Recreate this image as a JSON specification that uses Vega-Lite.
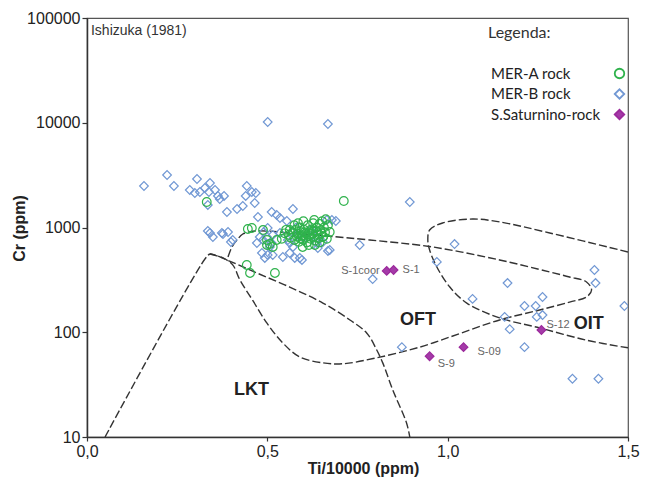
{
  "$schema": "https://vega.github.io/schema/vega-lite/v6.json",
  "autosize": "none",
  "width": 541,
  "height": 419,
  "padding": {"left": 87, "top": 18, "right": 24, "bottom": 44},
  "background": "white",
  "config": {
    "font": "Liberation Sans",
    "view": {"stroke": "#555", "strokeWidth": 1.2},
    "axis": {"grid": false, "domainColor": "#333", "domainWidth": 1.5, "tickColor": "#333", "tickWidth": 1.2, "labelFont": "Liberation Sans", "labelFontSize": 16, "labelColor": "#222", "titleFont": "Liberation Sans", "titleFontSize": 16, "titleFontWeight": "bold", "titleColor": "#222"}
  },
  "datasets": {
    "curves": [
      {"curve": "a", "ord": 1, "ti": 0.05, "cr": 10},
      {"curve": "a", "ord": 2, "ti": 0.327, "cr": 500},
      {"curve": "a", "ord": 3, "ti": 0.341, "cr": 558},
      {"curve": "a", "ord": 4, "ti": 0.355, "cr": 546},
      {"curve": "a", "ord": 5, "ti": 0.388, "cr": 490},
      {"curve": "a", "ord": 6, "ti": 0.471, "cr": 368},
      {"curve": "a", "ord": 7, "ti": 0.562, "cr": 270},
      {"curve": "a", "ord": 8, "ti": 0.654, "cr": 190},
      {"curve": "a", "ord": 9, "ti": 0.729, "cr": 131},
      {"curve": "a", "ord": 10, "ti": 0.776, "cr": 98},
      {"curve": "a", "ord": 11, "ti": 0.803, "cr": 68},
      {"curve": "a", "ord": 12, "ti": 0.82, "cr": 51},
      {"curve": "a", "ord": 13, "ti": 0.848, "cr": 28},
      {"curve": "a", "ord": 14, "ti": 0.886, "cr": 13.6},
      {"curve": "a", "ord": 15, "ti": 0.895, "cr": 10},
      {"curve": "b", "ord": 1, "ti": 0.341, "cr": 558},
      {"curve": "b", "ord": 2, "ti": 0.377, "cr": 512},
      {"curve": "b", "ord": 3, "ti": 0.404, "cr": 440},
      {"curve": "b", "ord": 4, "ti": 0.424, "cr": 316},
      {"curve": "b", "ord": 5, "ti": 0.46, "cr": 200},
      {"curve": "b", "ord": 6, "ti": 0.499, "cr": 122},
      {"curve": "b", "ord": 7, "ti": 0.543, "cr": 79},
      {"curve": "b", "ord": 8, "ti": 0.59, "cr": 58},
      {"curve": "b", "ord": 9, "ti": 0.654, "cr": 51},
      {"curve": "b", "ord": 10, "ti": 0.709, "cr": 50},
      {"curve": "b", "ord": 11, "ti": 0.803, "cr": 57},
      {"curve": "b", "ord": 12, "ti": 0.922, "cr": 72},
      {"curve": "b", "ord": 13, "ti": 1.006, "cr": 90},
      {"curve": "b", "ord": 14, "ti": 1.144, "cr": 131},
      {"curve": "b", "ord": 15, "ti": 1.255, "cr": 163},
      {"curve": "b", "ord": 16, "ti": 1.338, "cr": 194},
      {"curve": "b", "ord": 17, "ti": 1.385, "cr": 217},
      {"curve": "b", "ord": 18, "ti": 1.399, "cr": 253},
      {"curve": "b", "ord": 19, "ti": 1.385, "cr": 302},
      {"curve": "b", "ord": 20, "ti": 1.338, "cr": 337},
      {"curve": "b", "ord": 21, "ti": 1.283, "cr": 376},
      {"curve": "b", "ord": 22, "ti": 1.144, "cr": 490},
      {"curve": "b", "ord": 23, "ti": 0.958, "cr": 652},
      {"curve": "b", "ord": 24, "ti": 0.784, "cr": 760},
      {"curve": "b", "ord": 25, "ti": 0.665, "cr": 830},
      {"curve": "b", "ord": 26, "ti": 0.562, "cr": 887},
      {"curve": "b", "ord": 27, "ti": 0.5, "cr": 925},
      {"curve": "b", "ord": 28, "ti": 0.46, "cr": 920},
      {"curve": "b", "ord": 29, "ti": 0.432, "cr": 867},
      {"curve": "b", "ord": 30, "ti": 0.416, "cr": 760},
      {"curve": "b", "ord": 31, "ti": 0.402, "cr": 652},
      {"curve": "b", "ord": 32, "ti": 0.391, "cr": 523},
      {"curve": "c", "ord": 1, "ti": 1.5, "cr": 583},
      {"curve": "c", "ord": 2, "ti": 1.283, "cr": 887},
      {"curve": "c", "ord": 3, "ti": 1.144, "cr": 1130},
      {"curve": "c", "ord": 4, "ti": 1.069, "cr": 1205},
      {"curve": "c", "ord": 5, "ti": 0.986, "cr": 1104},
      {"curve": "c", "ord": 6, "ti": 0.95, "cr": 946},
      {"curve": "c", "ord": 7, "ti": 0.945, "cr": 760},
      {"curve": "c", "ord": 8, "ti": 0.95, "cr": 610},
      {"curve": "c", "ord": 9, "ti": 0.97, "cr": 420},
      {"curve": "c", "ord": 10, "ti": 1.006, "cr": 270},
      {"curve": "c", "ord": 11, "ti": 1.053, "cr": 190},
      {"curve": "c", "ord": 12, "ti": 1.144, "cr": 137},
      {"curve": "c", "ord": 13, "ti": 1.255, "cr": 110},
      {"curve": "c", "ord": 14, "ti": 1.385, "cr": 84},
      {"curve": "c", "ord": 15, "ti": 1.5, "cr": 71}
    ],
    "pts": [
      {"series": "MER-B rock", "ti": 0.158, "cr": 2490},
      {"series": "MER-B rock", "ti": 0.222, "cr": 3170},
      {"series": "MER-B rock", "ti": 0.241, "cr": 2490},
      {"series": "MER-B rock", "ti": 0.285, "cr": 2280},
      {"series": "MER-B rock", "ti": 0.305, "cr": 2904},
      {"series": "MER-B rock", "ti": 0.299, "cr": 2135},
      {"series": "MER-B rock", "ti": 0.313, "cr": 2183},
      {"series": "MER-B rock", "ti": 0.327, "cr": 2383},
      {"series": "MER-B rock", "ti": 0.341, "cr": 2660},
      {"series": "MER-B rock", "ti": 0.338, "cr": 2183},
      {"series": "MER-B rock", "ti": 0.355, "cr": 2280},
      {"series": "MER-B rock", "ti": 0.363, "cr": 2000},
      {"series": "MER-B rock", "ti": 0.368, "cr": 1871},
      {"series": "MER-B rock", "ti": 0.38, "cr": 2000},
      {"series": "MER-B rock", "ti": 0.335, "cr": 1641},
      {"series": "MER-B rock", "ti": 0.388, "cr": 1406},
      {"series": "MER-B rock", "ti": 0.416, "cr": 1502},
      {"series": "MER-B rock", "ti": 0.432, "cr": 1604},
      {"series": "MER-B rock", "ti": 0.443, "cr": 2490},
      {"series": "MER-B rock", "ti": 0.44, "cr": 2000},
      {"series": "MER-B rock", "ti": 0.457, "cr": 2183},
      {"series": "MER-B rock", "ti": 0.468, "cr": 2135},
      {"series": "MER-B rock", "ti": 0.465, "cr": 1714},
      {"series": "MER-B rock", "ti": 0.474, "cr": 1259},
      {"series": "MER-B rock", "ti": 0.512, "cr": 1406},
      {"series": "MER-B rock", "ti": 0.526, "cr": 1316},
      {"series": "MER-B rock", "ti": 0.535, "cr": 1232},
      {"series": "MER-B rock", "ti": 0.571, "cr": 1502},
      {"series": "MER-B rock", "ti": 0.554, "cr": 1153},
      {"series": "MER-B rock", "ti": 0.501, "cr": 10170},
      {"series": "MER-B rock", "ti": 0.668, "cr": 9730},
      {"series": "MER-B rock", "ti": 0.335, "cr": 926},
      {"series": "MER-B rock", "ti": 0.349, "cr": 811},
      {"series": "MER-B rock", "ti": 0.374, "cr": 887},
      {"series": "MER-B rock", "ti": 0.391, "cr": 906},
      {"series": "MER-B rock", "ti": 0.399, "cr": 727},
      {"series": "MER-B rock", "ti": 0.501, "cr": 989},
      {"series": "MER-B rock", "ti": 0.49, "cr": 906},
      {"series": "MER-B rock", "ti": 0.479, "cr": 811},
      {"series": "MER-B rock", "ti": 0.488, "cr": 760},
      {"series": "MER-B rock", "ti": 0.471, "cr": 711},
      {"series": "MER-B rock", "ti": 0.515, "cr": 848},
      {"series": "MER-B rock", "ti": 0.507, "cr": 652},
      {"series": "MER-B rock", "ti": 0.485, "cr": 571},
      {"series": "MER-B rock", "ti": 0.501, "cr": 546},
      {"series": "MER-B rock", "ti": 0.493, "cr": 512},
      {"series": "MER-B rock", "ti": 0.515, "cr": 546},
      {"series": "MER-B rock", "ti": 0.543, "cr": 523},
      {"series": "MER-B rock", "ti": 0.562, "cr": 571},
      {"series": "MER-B rock", "ti": 0.576, "cr": 512},
      {"series": "MER-B rock", "ti": 0.596, "cr": 490},
      {"series": "MER-B rock", "ti": 0.562, "cr": 711},
      {"series": "MER-B rock", "ti": 0.571, "cr": 652},
      {"series": "MER-B rock", "ti": 0.557, "cr": 760},
      {"series": "MER-B rock", "ti": 0.582, "cr": 848},
      {"series": "MER-B rock", "ti": 0.626, "cr": 848},
      {"series": "MER-B rock", "ti": 0.637, "cr": 711},
      {"series": "MER-B rock", "ti": 0.654, "cr": 727},
      {"series": "MER-B rock", "ti": 0.673, "cr": 610},
      {"series": "MER-B rock", "ti": 0.665, "cr": 1180},
      {"series": "MER-B rock", "ti": 0.679, "cr": 1180},
      {"series": "MER-B rock", "ti": 0.69, "cr": 1153},
      {"series": "MER-B rock", "ti": 0.756, "cr": 681},
      {"series": "MER-B rock", "ti": 0.535, "cr": 887},
      {"series": "MER-B rock", "ti": 0.895, "cr": 1752},
      {"series": "MER-B rock", "ti": 0.792, "cr": 322},
      {"series": "MER-B rock", "ti": 1.019, "cr": 695},
      {"series": "MER-B rock", "ti": 0.97, "cr": 469},
      {"series": "MER-B rock", "ti": 1.166, "cr": 295},
      {"series": "MER-B rock", "ti": 1.069, "cr": 208},
      {"series": "MER-B rock", "ti": 1.213, "cr": 178},
      {"series": "MER-B rock", "ti": 1.244, "cr": 178},
      {"series": "MER-B rock", "ti": 1.263, "cr": 217},
      {"series": "MER-B rock", "ti": 1.158, "cr": 140},
      {"series": "MER-B rock", "ti": 1.172, "cr": 107},
      {"series": "MER-B rock", "ti": 1.247, "cr": 140},
      {"series": "MER-B rock", "ti": 1.263, "cr": 146},
      {"series": "MER-B rock", "ti": 1.407, "cr": 393},
      {"series": "MER-B rock", "ti": 1.41, "cr": 295},
      {"series": "MER-B rock", "ti": 1.49, "cr": 178},
      {"series": "MER-B rock", "ti": 1.213, "cr": 72},
      {"series": "MER-B rock", "ti": 0.873, "cr": 72},
      {"series": "MER-B rock", "ti": 1.346, "cr": 36},
      {"series": "MER-B rock", "ti": 1.418, "cr": 36},
      {"series": "MER-B rock", "ti": 0.341, "cr": 887},
      {"series": "MER-B rock", "ti": 0.377, "cr": 867},
      {"series": "MER-B rock", "ti": 0.404, "cr": 760},
      {"series": "MER-B rock", "ti": 0.64, "cr": 637},
      {"series": "MER-B rock", "ti": 0.668, "cr": 597},
      {"series": "MER-B rock", "ti": 0.59, "cr": 512},
      {"series": "MER-B rock", "ti": 0.499, "cr": 811},
      {"series": "MER-B rock", "ti": 0.512, "cr": 711},
      {"series": "MER-B rock", "ti": 0.57, "cr": 900},
      {"series": "MER-B rock", "ti": 0.6, "cr": 800},
      {"series": "MER-B rock", "ti": 0.58, "cr": 1000},
      {"series": "MER-B rock", "ti": 0.62, "cr": 950},
      {"series": "MER-B rock", "ti": 0.64, "cr": 780},
      {"series": "MER-A rock", "ti": 0.712, "cr": 1791},
      {"series": "MER-A rock", "ti": 0.332, "cr": 1752},
      {"series": "MER-A rock", "ti": 0.443, "cr": 439},
      {"series": "MER-A rock", "ti": 0.452, "cr": 368},
      {"series": "MER-A rock", "ti": 0.521, "cr": 368},
      {"series": "MER-A rock", "ti": 0.446, "cr": 968},
      {"series": "MER-A rock", "ti": 0.488, "cr": 946},
      {"series": "MER-A rock", "ti": 0.457, "cr": 989},
      {"series": "MER-A rock", "ti": 0.499, "cr": 760},
      {"series": "MER-A rock", "ti": 0.526, "cr": 760},
      {"series": "MER-A rock", "ti": 0.515, "cr": 652},
      {"series": "MER-A rock", "ti": 0.507, "cr": 695},
      {"series": "MER-A rock", "ti": 0.562, "cr": 946},
      {"series": "MER-A rock", "ti": 0.598, "cr": 652},
      {"series": "MER-A rock", "ti": 0.632, "cr": 681},
      {"series": "MER-A rock", "ti": 0.654, "cr": 811},
      {"series": "MER-A rock", "ti": 0.673, "cr": 906},
      {"series": "MER-A rock", "ti": 0.499, "cr": 681},
      {"series": "MER-A rock", "ti": 0.56, "cr": 850},
      {"series": "MER-A rock", "ti": 0.565, "cr": 800},
      {"series": "MER-A rock", "ti": 0.57, "cr": 900},
      {"series": "MER-A rock", "ti": 0.575, "cr": 760},
      {"series": "MER-A rock", "ti": 0.578, "cr": 950},
      {"series": "MER-A rock", "ti": 0.582, "cr": 820},
      {"series": "MER-A rock", "ti": 0.585, "cr": 870},
      {"series": "MER-A rock", "ti": 0.588, "cr": 730},
      {"series": "MER-A rock", "ti": 0.59, "cr": 1000},
      {"series": "MER-A rock", "ti": 0.592, "cr": 780},
      {"series": "MER-A rock", "ti": 0.595, "cr": 900},
      {"series": "MER-A rock", "ti": 0.598, "cr": 840},
      {"series": "MER-A rock", "ti": 0.6, "cr": 760},
      {"series": "MER-A rock", "ti": 0.602, "cr": 950},
      {"series": "MER-A rock", "ti": 0.605, "cr": 870},
      {"series": "MER-A rock", "ti": 0.607, "cr": 810},
      {"series": "MER-A rock", "ti": 0.61, "cr": 720},
      {"series": "MER-A rock", "ti": 0.612, "cr": 1050},
      {"series": "MER-A rock", "ti": 0.615, "cr": 900},
      {"series": "MER-A rock", "ti": 0.617, "cr": 830},
      {"series": "MER-A rock", "ti": 0.62, "cr": 780},
      {"series": "MER-A rock", "ti": 0.622, "cr": 960},
      {"series": "MER-A rock", "ti": 0.625, "cr": 870},
      {"series": "MER-A rock", "ti": 0.627, "cr": 1100},
      {"series": "MER-A rock", "ti": 0.63, "cr": 820},
      {"series": "MER-A rock", "ti": 0.632, "cr": 750},
      {"series": "MER-A rock", "ti": 0.635, "cr": 920},
      {"series": "MER-A rock", "ti": 0.637, "cr": 1000},
      {"series": "MER-A rock", "ti": 0.64, "cr": 860},
      {"series": "MER-A rock", "ti": 0.642, "cr": 790},
      {"series": "MER-A rock", "ti": 0.645, "cr": 1080},
      {"series": "MER-A rock", "ti": 0.647, "cr": 940},
      {"series": "MER-A rock", "ti": 0.65, "cr": 880},
      {"series": "MER-A rock", "ti": 0.652, "cr": 1150},
      {"series": "MER-A rock", "ti": 0.655, "cr": 820},
      {"series": "MER-A rock", "ti": 0.657, "cr": 1000},
      {"series": "MER-A rock", "ti": 0.66, "cr": 900},
      {"series": "MER-A rock", "ti": 0.662, "cr": 1200},
      {"series": "MER-A rock", "ti": 0.665, "cr": 780},
      {"series": "MER-A rock", "ti": 0.668, "cr": 1050},
      {"series": "MER-A rock", "ti": 0.585, "cr": 1100},
      {"series": "MER-A rock", "ti": 0.6, "cr": 1150},
      {"series": "MER-A rock", "ti": 0.615, "cr": 680},
      {"series": "MER-A rock", "ti": 0.63, "cr": 1180},
      {"series": "MER-A rock", "ti": 0.645, "cr": 720},
      {"series": "MER-A rock", "ti": 0.603, "cr": 900},
      {"series": "MER-A rock", "ti": 0.618, "cr": 870},
      {"series": "MER-A rock", "ti": 0.628, "cr": 930},
      {"series": "MER-A rock", "ti": 0.595, "cr": 820},
      {"series": "MER-A rock", "ti": 0.575, "cr": 1050},
      {"series": "MER-A rock", "ti": 0.548, "cr": 880},
      {"series": "MER-A rock", "ti": 0.552, "cr": 950},
      {"series": "MER-A rock", "ti": 0.54, "cr": 780},
      {"series": "S.Saturnino-rock", "ti": 0.831, "cr": 385, "name": "S-1coor"},
      {"series": "S.Saturnino-rock", "ti": 0.85, "cr": 393, "name": "S-1"},
      {"series": "S.Saturnino-rock", "ti": 0.95, "cr": 59, "name": "S-9"},
      {"series": "S.Saturnino-rock", "ti": 1.044, "cr": 72, "name": "S-09"},
      {"series": "S.Saturnino-rock", "ti": 1.26, "cr": 105, "name": "S-12"}
    ],
    "regions": [
      {"label": "LKT", "ti": 0.456, "cr": 28},
      {"label": "OFT", "ti": 0.918, "cr": 131},
      {"label": "OIT", "ti": 1.391, "cr": 120}
    ],
    "source": [
      {"label": "Ishizuka (1981)", "ti": 0.011, "cr": 75000}
    ]
  },
  "encoding": {
    "x": {"field": "ti", "type": "quantitative", "scale": {"domain": [0, 1.5], "nice": false, "zero": false},
      "axis": {"values": [0, 0.5, 1, 1.5], "labelExpr": "replace(format(datum.value, '.1f'), '.', ',')", "tickSize": 4, "labelPadding": 2, "title": "Ti/10000 (ppm)", "titleX": 276, "titleY": 23, "titleBaseline": "top", "titleAlign": "center", "labelFlush": false}},
    "y": {"field": "cr", "type": "quantitative", "scale": {"type": "log", "domain": [10, 100000], "nice": false},
      "axis": {"values": [10, 100, 1000, 10000, 100000], "labelExpr": "format(datum.value, 'd')", "tickSize": 5, "labelPadding": 2, "title": "Cr (ppm)", "titleX": -60, "titleY": 210, "titleBaseline": "bottom", "titleAlign": "center", "titleAngle": 270, "labelFlush": false}}
  },
  "layer": [
    {
      "data": {"name": "curves"},
      "mark": {"type": "line", "color": "#333", "strokeWidth": 1.4, "strokeDash": [8, 3], "interpolate": "catmull-rom", "clip": true},
      "encoding": {"detail": {"field": "curve", "type": "nominal"}, "order": {"field": "ord", "type": "quantitative"}}
    },
    {
      "data": {"name": "pts"},
      "mark": {"type": "point", "opacity": 1, "strokeWidth": 1.2, "size": 75, "clip": true},
      "encoding": {
        "shape": {"field": "series", "type": "nominal", "title": "Legenda:",
          "scale": {"domain": ["MER-A rock", "MER-B rock", "S.Saturnino-rock"], "range": ["circle", "diamond", "diamond"]},
          "legend": {"orient": "none", "legendX": 401, "legendY": 7, "direction": "vertical", "padding": 0, "titleFont": "Lato", "titleFontSize": 16, "titleFontWeight": "normal", "titleColor": "#333", "titlePadding": 25, "labelFont": "Lato", "labelFontSize": 15, "labelColor": "#222", "labelOffset": -136, "symbolOffset": 124, "symbolSize": 90, "symbolStrokeWidth": 1.8, "rowPadding": 3.5, "labelLimit": 300}},
        "stroke": {"field": "series", "type": "nominal", "title": "Legenda:",
          "scale": {"domain": ["MER-A rock", "MER-B rock", "S.Saturnino-rock"], "range": ["#2fb24c", "#7198d4", "#9c2a9c"]}},
        "fill": {"field": "series", "type": "nominal", "title": "Legenda:",
          "scale": {"domain": ["MER-A rock", "MER-B rock", "S.Saturnino-rock"], "range": ["transparent", "transparent", "#a43aa8"]}}
      }
    },
    {
      "data": {"name": "pts"},
      "transform": [{"filter": "datum.name == 'S-1coor'"}],
      "mark": {"type": "text", "align": "right", "baseline": "middle", "dx": -7, "fontSize": 11, "color": "#666"},
      "encoding": {"text": {"field": "name"}}
    },
    {
      "data": {"name": "pts"},
      "transform": [{"filter": "datum.name == 'S-1'"}],
      "mark": {"type": "text", "align": "left", "baseline": "middle", "dx": 9, "fontSize": 11, "color": "#666"},
      "encoding": {"text": {"field": "name"}}
    },
    {
      "data": {"name": "pts"},
      "transform": [{"filter": "datum.name == 'S-9'"}],
      "mark": {"type": "text", "align": "left", "baseline": "middle", "dx": 8, "dy": 8, "fontSize": 11, "color": "#666"},
      "encoding": {"text": {"field": "name"}}
    },
    {
      "data": {"name": "pts"},
      "transform": [{"filter": "datum.name == 'S-09'"}],
      "mark": {"type": "text", "align": "left", "baseline": "middle", "dx": 14, "dy": 5, "fontSize": 11, "color": "#666"},
      "encoding": {"text": {"field": "name"}}
    },
    {
      "data": {"name": "pts"},
      "transform": [{"filter": "datum.name == 'S-12'"}],
      "mark": {"type": "text", "align": "left", "baseline": "middle", "dx": 5, "dy": -5, "fontSize": 11, "color": "#666"},
      "encoding": {"text": {"field": "name"}}
    },
    {
      "data": {"name": "regions"},
      "mark": {"type": "text", "align": "center", "baseline": "middle", "fontSize": 18, "fontWeight": "bold", "color": "#222"},
      "encoding": {"text": {"field": "label"}}
    },
    {
      "data": {"name": "source"},
      "mark": {"type": "text", "align": "left", "baseline": "middle", "fontSize": 14, "color": "#333"},
      "encoding": {"text": {"field": "label"}}
    }
  ]
}
